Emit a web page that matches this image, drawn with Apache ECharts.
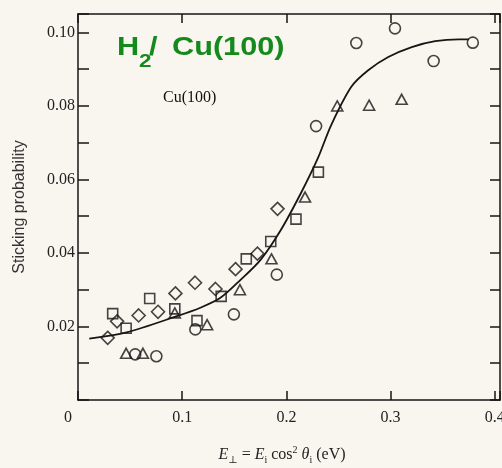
<!DOCTYPE html>
<html>
<head>
<meta charset="utf-8">
<title>H2 / Cu(100) sticking probability</title>
<script src="https://cdn.jsdelivr.net/npm/echarts@6/dist/echarts.min.js"></script>
<style>
  html, body { margin: 0; padding: 0; background: #f8f6ee; }
  #main { width: 502px; height: 468px; }
</style>
</head>
<body>
<div id="main"></div>
<script>
// values: [E_perp (eV), sticking probability]
var diamonds = [
  [0.0285, 0.0169], [0.0375, 0.0214], [0.0582, 0.0230], [0.0768, 0.0240],
  [0.0935, 0.0290], [0.1123, 0.0319], [0.1319, 0.0302], [0.1512, 0.0356],
  [0.1722, 0.0398], [0.1915, 0.0520]
];
var squares = [
  [0.0333, 0.0235], [0.0462, 0.0195], [0.0688, 0.0276], [0.0929, 0.0248],
  [0.1142, 0.0216], [0.1374, 0.0282], [0.1615, 0.0384], [0.1850, 0.0431],
  [0.2092, 0.0492], [0.2307, 0.0620]
];
var triangles = [
  [0.0462, 0.0127], [0.0623, 0.0127], [0.0929, 0.0237], [0.1239, 0.0205],
  [0.1554, 0.0300], [0.1857, 0.0384], [0.2179, 0.0552], [0.2488, 0.0800],
  [0.2794, 0.0802], [0.3106, 0.0818]
];
var circles = [
  [0.0549, 0.0124], [0.0752, 0.0119], [0.1126, 0.0192], [0.1496, 0.0233],
  [0.1908, 0.0341], [0.2285, 0.0745], [0.2671, 0.0971], [0.3042, 0.1011],
  [0.3413, 0.0922], [0.3789, 0.0972]
];
// fitted curve
var curve = [
  [0.0108, 0.0167], [0.0466, 0.0184], [0.0949, 0.0228], [0.1174, 0.0251],
  [0.1367, 0.0278], [0.1560, 0.0327], [0.1754, 0.0382], [0.1948, 0.0463],
  [0.2140, 0.0563], [0.2301, 0.0657], [0.2430, 0.0748], [0.2623, 0.0852],
  [0.2785, 0.0897], [0.2978, 0.0933], [0.3203, 0.0960], [0.3428, 0.0976],
  [0.3654, 0.0981], [0.3751, 0.0981]
];
var xTicks = [0.1, 0.2, 0.3, 0.4];
var yTicks = [0.02, 0.04, 0.06, 0.08, 0.10];

var ink = '#161616';
var serif = '"Liberation Serif", "DejaVu Serif", serif';
var sans = '"Liberation Sans", Arial, sans-serif';

function yLabel(v) {
  for (var i = 0; i < yTicks.length; i++) {
    if (Math.abs(v - yTicks[i]) < 1e-6) return yTicks[i].toFixed(2);
  }
  return '';
}
function xLabel(v) {
  for (var i = 0; i < xTicks.length; i++) {
    if (Math.abs(v - xTicks[i]) < 1e-6) return String(xTicks[i]);
  }
  return '';
}

function frameAxis(pos, max, interval, tickLen) {
  return {
    type: 'value', position: pos, min: 0, max: max, interval: interval,
    axisLine: { show: true, onZero: false, lineStyle: { color: ink, width: 1.5 } },
    axisTick: { show: true, inside: true, length: tickLen, lineStyle: { color: ink, width: 1.5 } },
    axisLabel: { show: false },
    splitLine: { show: false }
  };
}

function markers(name, data, symbol, size) {
  return {
    name: name,
    type: 'scatter',
    data: data,
    symbol: symbol,
    symbolSize: size,
    itemStyle: { color: 'rgba(0,0,0,0)', borderColor: ink, borderWidth: 1.6 },
    z: 3
  };
}

var xBottom = frameAxis('bottom', 0.405, 0.1, 9);
xBottom.axisLabel = { formatter: xLabel, color: '#222', fontFamily: serif, fontSize: 16, margin: 10 };
xBottom.name = '{i|E}{s|⊥}{n| = }{i|E}{s|i}{n| cos}{p|2}{i| θ}{s|i}{n| (eV)}';
xBottom.nameLocation = 'middle';
xBottom.nameGap = 45;
xBottom.nameTextStyle = {
  padding: [0, 14, 0, 0],
  rich: {
    i: { fontFamily: serif, fontStyle: 'italic', fontSize: 16, lineHeight: 20, color: '#222' },
    n: { fontFamily: serif, fontSize: 16, lineHeight: 20, color: '#222' },
    s: { fontFamily: serif, fontSize: 10, lineHeight: 12, verticalAlign: 'bottom', color: '#222' },
    p: { fontFamily: serif, fontSize: 10, lineHeight: 12, verticalAlign: 'top', color: '#222' }
  }
};

var yLeft = frameAxis('left', 0.105, 0.01, 11);
yLeft.axisLabel = { formatter: yLabel, color: '#222', fontFamily: serif, fontSize: 16, margin: 3 };
yLeft.name = 'Sticking probability';
yLeft.nameLocation = 'middle';
yLeft.nameGap = 50;
yLeft.nameTextStyle = { fontFamily: sans, fontSize: 16, color: '#333' };

var chart = echarts.init(document.getElementById('main'));
chart.setOption({
  backgroundColor: '#f8f6ee',
  animation: false,
  grid: { left: 78, right: 2, top: 14, bottom: 68, outerBoundsMode: 'none', containLabel: false },
  xAxis: [xBottom, frameAxis('top', 0.405, 0.1, 9)],
  yAxis: [yLeft, frameAxis('right', 0.105, 0.01, 10)],
  series: [
    {
      name: 'fit', type: 'line', data: curve, smooth: 0.3, showSymbol: false,
      lineStyle: { color: ink, width: 1.8 }, z: 2
    },
    markers('diamond', diamonds, 'diamond', [13, 13]),
    markers('square', squares, 'rect', [10, 10]),
    markers('triangle', triangles, 'triangle', [11, 10]),
    markers('circle', circles, 'circle', 11)
  ],
  graphic: [
    { type: 'text', x: 68, y: 418, style: { text: '0', font: '16px ' + serif, fill: '#222', align: 'center', verticalAlign: 'middle' } },
    { type: 'text', x: 163, y: 98, style: { text: 'Cu(100)', font: '16px ' + serif, fill: '#111', verticalAlign: 'middle' } },
    { type: 'text', x: 117, y: 48, scaleX: 1.18, style: { text: 'H', font: 'bold 26px ' + sans, fill: '#148a1c', verticalAlign: 'middle' } },
    { type: 'text', x: 139, y: 62, scaleX: 1.18, style: { text: '2', font: 'bold 19px ' + sans, fill: '#148a1c', verticalAlign: 'middle' } },
    { type: 'text', x: 149, y: 48, scaleX: 1.18, style: { text: '/', font: 'bold 26px ' + sans, fill: '#148a1c', verticalAlign: 'middle' } },
    { type: 'text', x: 172, y: 48, scaleX: 1.18, style: { text: 'Cu(100)', font: 'bold 26px ' + sans, fill: '#148a1c', verticalAlign: 'middle' } }
  ]
});
</script>
</body>
</html>
